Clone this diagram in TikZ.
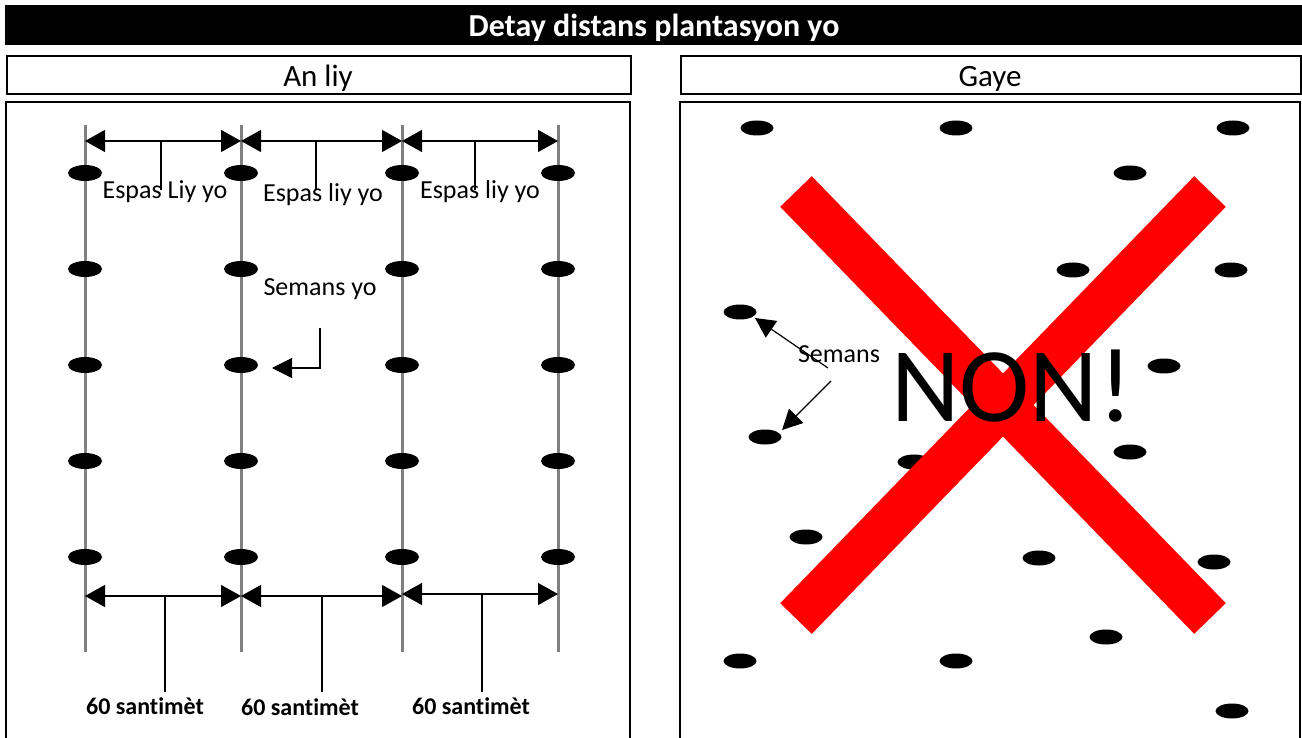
\documentclass[tikz,border=0pt]{standalone}
\usepackage{fontspec}
\setmainfont{Carlito}[Ligatures=NoCommon]
\usetikzlibrary{arrows.meta,shapes.geometric}
\begin{document}
\begin{tikzpicture}[x=1pt,y=-1pt,
  seed/.style={ellipse,fill=black,minimum width=34pt,minimum height=16pt,inner sep=0pt},
  rowline/.style={draw=gray,line width=3pt},
  dimarrow/.style={line width=1.2pt,{Triangle[length=20pt,width=22pt]}-{Triangle[length=20pt,width=22pt]}},
  ptr/.style={line width=1.2pt,-{Triangle[length=20pt,width=20pt]}},
  tickline/.style={line width=1.2pt},
  lbl/.style={font=\fontsize{26}{30}\selectfont,inner sep=0pt},
  blbl/.style={font=\bfseries\fontsize{24}{28}\selectfont,inner sep=0pt},
  frame/.style={draw=black,line width=2pt},
  head/.style={frame,minimum height=38pt,anchor=north west,inner sep=0pt},
  headtext/.style={anchor=base,inner sep=0pt,font=\fontsize{31}{36}\selectfont},
  cross/.style={draw=red,line width=44pt}
]
\useasboundingbox (0,0) rectangle (1302,738);
% title
\node[fill=black,minimum width=1297pt,minimum height=40pt,anchor=north west,inner sep=0pt] (title) at (5,5) {};
\node[anchor=base,inner sep=0pt,text=white,font=\bfseries\fontsize{32}{36}\selectfont] (titletext) at (654,37) {Detay distans plantasyon yo};
% headers
\node[head,minimum width=624pt] (hl) at (6,55) {};
\node[head,minimum width=620pt] (hr) at (680,55) {};
\node[headtext] (hlt) at (318,87) {An liy};
\node[headtext] (hrt) at (990,87) {Gaye};
% panels
\draw[frame] (6,745) -- (6,102) -- (630,102) -- (630,745);
\draw[frame] (680,745) -- (680,102) -- (1300,102) -- (1300,745);

% ---------- left panel ----------
\foreach \x [count=\i] in {85,241,402,558} {
  \coordinate (la\i) at (\x,125);
  \coordinate (lb\i) at (\x,652);
  \draw[rowline] (la\i) -- (lb\i);
  \foreach \y [count=\j] in {173,269,365,461,557}
    \node[seed] (s\i\j) at (\x,\y) {};
}
% top dimension arrows
\foreach \x [count=\i] in {85,241,402,558} \coordinate (t\i) at (\x,141);
\draw[dimarrow] (t1) -- (t2);
\draw[dimarrow] (t2) -- (t3);
\draw[dimarrow] (t3) -- (t4);
\coordinate (tm1) at (161,141); \coordinate (te1) at (161,190);
\coordinate (tm2) at (316,141); \coordinate (te2) at (316,190);
\coordinate (tm3) at (475,141); \coordinate (te3) at (475,190);
\draw[tickline] (tm1) -- (te1);
\draw[tickline] (tm2) -- (te2);
\draw[tickline] (tm3) -- (te3);
\node[lbl,anchor=base] (el1) at (165,199) {Espas Liy yo};
\node[lbl,anchor=base] (el2) at (323,202) {Espas liy yo};
\node[lbl,anchor=base] (el3) at (480,199) {Espas liy yo};
% bottom dimension arrows
\coordinate (b1) at (85,596); \coordinate (b2) at (241,596);
\coordinate (b2b) at (241,596); \coordinate (b3) at (402,596);
\coordinate (b3b) at (402,594); \coordinate (b4) at (558,594);
\draw[dimarrow] (b1) -- (b2);
\draw[dimarrow] (b2b) -- (b3);
\draw[dimarrow] (b3b) -- (b4);
\coordinate (bm1) at (165,596); \coordinate (be1) at (165,692);
\coordinate (bm2) at (322,596); \coordinate (be2) at (322,692);
\coordinate (bm3) at (482,594); \coordinate (be3) at (482,692);
\draw[tickline] (bm1) -- (be1);
\draw[tickline] (bm2) -- (be2);
\draw[tickline] (bm3) -- (be3);
\node[blbl,anchor=base] (cm1) at (145,714) {60 santimèt};
\node[blbl,anchor=base] (cm2) at (300,715) {60 santimèt};
\node[blbl,anchor=base] (cm3) at (471,714) {60 santimèt};
% seeds label
\node[lbl,anchor=base] (sy) at (320,295) {Semans yo};
\coordinate (sya) at (320,328);
\coordinate (syb) at (272,368);
\draw[ptr] (sya) |- (syb);

% ---------- right panel ----------
\foreach \p [count=\k] in {(757,128),(956,128),(1233,128),(1130,173),(1073,270),(1231,270),
  (740,312),(1164,366),(765,437),(914,462),(1130,452),(806,537),(1039,558),(1214,562),
  (1106,637),(740,661),(956,661),(1232,711)}
  \node[seed,minimum width=33pt,minimum height=15pt] (r\k) at \p {};
\coordinate (x1a) at (796,191.5); \coordinate (x1b) at (1210,618.5);
\coordinate (x2a) at (1210,191.5); \coordinate (x2b) at (796,618.5);
\draw[cross] (x1a) -- (x1b);
\draw[cross] (x2a) -- (x2b);
\node[inner sep=0pt,anchor=base,font=\fontsize{106}{116}\selectfont] (non) at (1012,421) {NON!};
\node[lbl,anchor=base] (sm) at (839,362) {Semans};
\coordinate (p1) at (828,368); \coordinate (q1) at (755,318);
\coordinate (p2) at (831,381); \coordinate (q2) at (782,430);
\draw[ptr] (p1) -- (q1);
\draw[ptr] (p2) -- (q2);
\end{tikzpicture}
\end{document}
